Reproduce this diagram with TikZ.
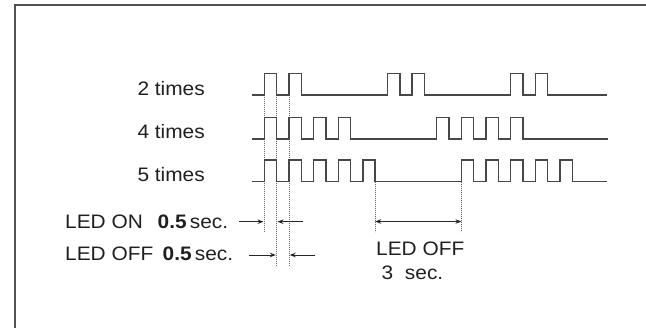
\documentclass[tikz,border=0pt]{standalone}
\usepackage{fontspec}
\setmainfont{Liberation Sans}[FakeStretch=1.07]
\usetikzlibrary{arrows.meta}
\tikzset{
	wave/.style={line width=1.4pt, draw=black!72, line join=miter},
	guide/.style={line width=0.6pt, draw=black!60, dash pattern=on 0.9pt off 1.1pt},
	dimarrow/.style={line width=0.9pt, draw=black!85, -{Stealth[length=6pt,width=4.5pt]}},
	dimboth/.style={line width=0.9pt, draw=black!85, {Stealth[length=6pt,width=4.5pt]}-{Stealth[length=6pt,width=4.5pt]}},
	lbl/.style={font=\fontsize{19.5}{23}\selectfont, text=black!88, inner sep=0pt},
}
\begin{document}
\begin{tikzpicture}[x=1pt,y=-1pt]
	\useasboundingbox (0,0) rectangle (646,328);
	\def\xo{264.3} \def\tu{12.32} \def\hi{21.5}
	% frame
	\draw[line width=2pt, black!68] (15.3,328) -- (15.3,5.5) -- (646,5.5);
	% row labels
	\node[lbl, anchor=base east] (two) at (205,95.7) {2 times};
	\node[lbl, anchor=base east] (four) at (205,138.7) {4 times};
	\node[lbl, anchor=base east] (five) at (205,181.3) {5 times};
	% guide lines
	\coordinate (on0) at (\xo,95);
	\coordinate (on0b) at (\xo,231.7);
	\coordinate (off0) at ({\xo+\tu},95);
	\coordinate (off0b) at ({\xo+\tu},265.5);
	\coordinate (on1) at ({\xo+2*\tu},95);
	\coordinate (on1b) at ({\xo+2*\tu},265.5);
	\coordinate (gapL) at ({\xo+9*\tu},181.7);
	\coordinate (gapLb) at ({\xo+9*\tu},231.7);
	\coordinate (gapR) at ({\xo+16*\tu},181.7);
	\coordinate (gapRb) at ({\xo+16*\tu},231.7);
	\draw[guide] (on0) -- (on0b);
	\draw[guide] (off0) -- (off0b);
	\draw[guide] (on1) -- (on1b);
	\draw[guide] (gapL) -- (gapLb);
	\draw[guide] (gapR) -- (gapRb);
	% waveforms
	\draw[wave] (252,95) \foreach \k in {0,2,10,12,20,22} {-- ({\xo+\k*\tu},95) -- ++(0,-\hi) -- ++(\tu,0) -- ++(0,\hi)} -- (607,95);
	\draw[wave] (252,139) \foreach \k in {0,2,4,6,14,16,18,20} {-- ({\xo+\k*\tu},139) -- ++(0,-\hi) -- ++(\tu,0) -- ++(0,\hi)} -- (608,139);
	\draw[wave] (252,181.7) \foreach \k in {0,2,4,6,8,16,18,20,22,24} {-- ({\xo+\k*\tu},181.7) -- ++(0,-\hi) -- ++(\tu,0) -- ++(0,\hi)} -- (607,181.7);
	% LED ON
	\node[lbl, anchor=base west] (ontxt) at (65,229) {LED ON};
	\node[lbl, anchor=base west] (onval) at (157.5,229) {\textbf{0.5}\,sec.};
	\coordinate (onA) at (239,221.7);
	\coordinate (onAt) at ({\xo-0.8},221.7);
	\coordinate (onB) at (303.3,221.7);
	\coordinate (onBt) at ({\xo+\tu+0.8},221.7);
	\draw[dimarrow] (onA) -- (onAt);
	\draw[dimarrow] (onB) -- (onBt);
	% LED OFF
	\node[lbl, anchor=base west] (offtxt) at (65,261) {LED OFF};
	\node[lbl, anchor=base west] (offval) at (162.5,261) {\textbf{0.5}\,sec.};
	\coordinate (offA) at (249.3,255);
	\coordinate (offAt) at ({\xo+\tu-0.8},255);
	\coordinate (offB) at (315.3,255);
	\coordinate (offBt) at ({\xo+2*\tu+0.8},255);
	\draw[dimarrow] (offA) -- (offAt);
	\draw[dimarrow] (offB) -- (offBt);
	% LED OFF 3 sec
	\coordinate (gapA) at ({\xo+9*\tu},221.5);
	\coordinate (gapB) at ({\xo+16*\tu},221.5);
	\draw[dimboth] (gapA) -- (gapB);
	\node[lbl, anchor=base west] (gaptxt) at (376,255.5) {LED OFF};
	\node[lbl, anchor=base west] (gapval) at (381.5,280) {3\hspace{0.6em}sec.};
\end{tikzpicture}
\end{document}
